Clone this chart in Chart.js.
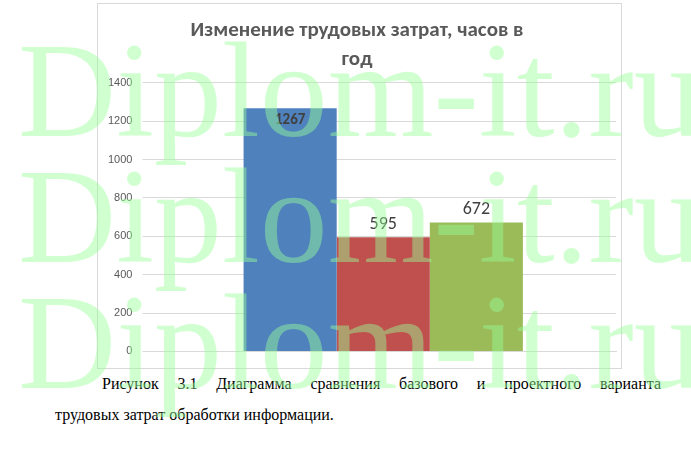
<!DOCTYPE html>
<html><head><meta charset="utf-8">
<script src="https://cdn.jsdelivr.net/npm/chart.js@4"></script>
<style>
body{margin:0;background:#fff;width:691px;height:450px;position:relative;overflow:hidden}
#box{position:absolute;left:97px;top:3px;width:525px;height:366px;border:1px solid #d9d9d9;box-sizing:border-box}
#cap{position:absolute;left:55px;top:368px;width:606px;font-family:"Liberation Serif",serif;font-size:16px;line-height:31px;color:#000}
#cap .l1{text-align:justify;text-align-last:justify;text-indent:47px}
.wm{position:absolute;left:18px;font-family:"Liberation Serif",serif;font-size:136px;line-height:136px;color:rgba(150,255,150,0.45);pointer-events:none;white-space:nowrap}
</style></head><body>
<div id="box"><canvas id="c" width="523" height="364" style="width:523px;height:364px"></canvas></div>
<div id="cap"><div class="l1">Рисунок 3.1 Диаграмма сравнения базового и проектного варианта</div><div>трудовых затрат обработки информации.</div></div>
<div class="wm" style="top:22px">Diplom-it.ru</div>
<div class="wm" style="top:148px">Diplom-it.ru</div>
<div class="wm" style="top:274px">Diplom-it.ru</div>
<script>
// data
const categories = [""];
const seriesNames = ["Базовый", "Проектный 1", "Проектный 2"];
const seriesValues = [[1267], [595], [672]];
const colors = ["#4f81bd", "#c0504d", "#9bbb59"];
const yTicks = [0, 200, 400, 600, 800, 1000, 1200, 1400];

// value labels above / inside bars
const labelPlugin = {
  id: "labels",
  afterDatasetsDraw(chart) {
    const ctx = chart.ctx;
    chart.data.datasets.forEach((ds, i) => {
      const bar = chart.getDatasetMeta(i).data[0];
      ctx.save();
      ctx.textAlign = "center";
      ctx.fillStyle = "#404040";
      if (i == 0) {
        ctx.font = "bold 15px Calibri, 'Liberation Sans', sans-serif";
        ctx.textBaseline = "top";
        ctx.fillText(ds.data[0], bar.x, bar.y + 4);
      } else {
        ctx.font = "18px Calibri, 'Liberation Sans', sans-serif";
        ctx.textBaseline = "bottom";
        ctx.fillText(ds.data[0], bar.x, bar.y - 4);
      }
      ctx.restore();
    });
  }
};

new Chart(document.getElementById("c"), {
  type: "bar",
  data: {
    labels: categories,
    datasets: seriesNames.map((n, i) => ({
      label: n, data: seriesValues[i], backgroundColor: colors[i],
      barPercentage: 1, categoryPercentage: 0.6
    }))
  },
  options: {
    responsive: false, animation: false,
    layout: {padding: {left: 0, right: 5, bottom: 6}},
    plugins: {
      legend: {display: false},
      tooltip: {enabled: false},
      title: {display: true, text: ["Изменение трудовых затрат, часов в", "год"],
        color: "#595959", font: {size: 21, weight: "bold", family: "Calibri, 'Open Sans', sans-serif", lineHeight: 1.4},
        padding: {top: 12, bottom: 8}}
    },
    scales: {
      x: {grid: {display: false}, border: {color: "#d9d9d9"}, ticks: {display: false}},
      y: {min: 0, max: 1400, afterBuildTicks: s => { s.ticks = yTicks.map(v => ({value: v})); },
        grid: {color: "#d9d9d9"}, border: {display: false},
        ticks: {color: "#595959", font: {size: 11}, padding: 10, callback: v => String(v)}}
    }
  },
  plugins: [labelPlugin]
});
</script>
</body></html>
